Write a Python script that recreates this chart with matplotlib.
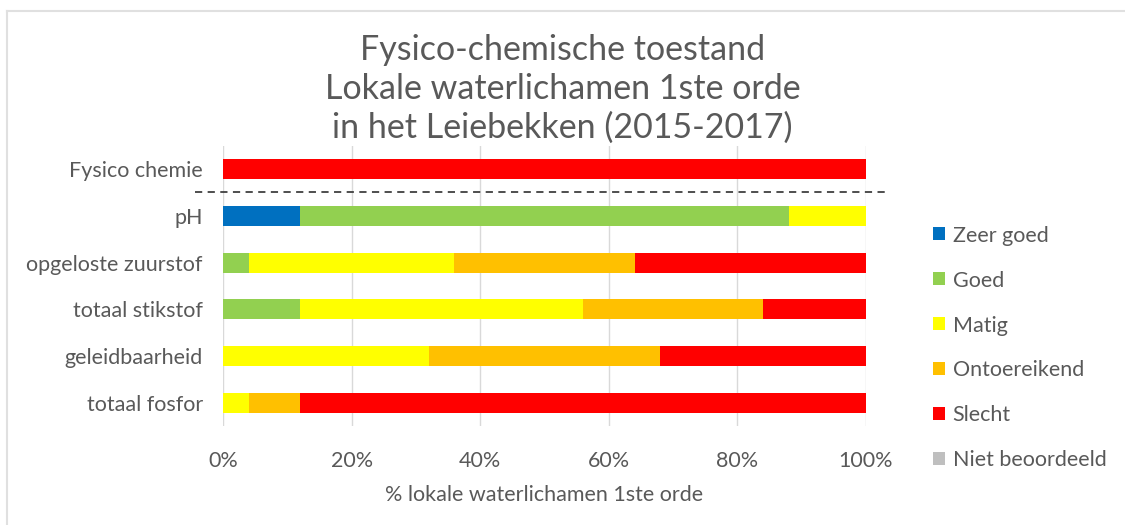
import matplotlib
matplotlib.use("Agg")
import matplotlib.pyplot as plt
import matplotlib.transforms as mtransforms
from matplotlib.patches import Patch
from matplotlib.lines import Line2D

categories = ["Fysico chemie", "pH", "opgeloste zuurstof", "totaal stikstof",
              "geleidbaarheid", "totaal fosfor"]
classes = ["Zeer goed", "Goed", "Matig", "Ontoereikend", "Slecht", "Niet beoordeeld"]
colors = ["#0070C0", "#92D050", "#FFFF00", "#FFC000", "#FF0000", "#BFBFBF"]

zeer_goed = [0, 12, 0, 0, 0, 0]
goed = [0, 76, 4, 12, 0, 0]
matig = [0, 12, 32, 44, 32, 4]
ontoereikend = [0, 0, 28, 28, 36, 8]
slecht = [100, 0, 36, 16, 32, 88]
niet_beoordeeld = [0, 0, 0, 0, 0, 0]

series = [zeer_goed, goed, matig, ontoereikend, slecht, niet_beoordeeld]
xticks = [0, 20, 40, 60, 80, 100]

plt.rcParams['font.family'] = ['Lato', 'DejaVu Sans']
txt = "#595959"
fs = 15.5

fig = plt.figure(figsize=(11.25, 5.25), dpi=100)
ax = fig.add_axes([223/1125, 1-426.4/525, (866-223)/1125, (426.4-145.6)/525])

y = list(range(len(categories)))
left = [0]*len(categories)
for vals, col, name in zip(series, colors, classes):
    ax.barh(y, vals, left=left, color=col, height=0.43, label=name, zorder=3)
    left = [a+b for a, b in zip(left, vals)]

ax.set_xlim(0, 100)
ax.set_ylim(len(categories)-0.5, -0.5)
ax.set_yticks(y)
ax.set_yticklabels(categories)
ax.set_xticks(xticks)
ax.set_xticklabels([f"{v}%" for v in xticks])
ax.tick_params(axis='both', length=0, colors=txt, labelsize=fs)
ax.tick_params(axis='y', pad=14.5)
ax.tick_params(axis='x', pad=18)
for s in ax.spines.values():
    s.set_visible(False)
ax.grid(axis='x', color="#D9D9D9", linewidth=1, zorder=0)
ax.set_xlabel("% lokale waterlichamen 1ste orde", color=txt, fontsize=fs, labelpad=10)

trans = mtransforms.blended_transform_factory(ax.transAxes, ax.transData)
ax.add_line(Line2D([(195-223)/643, (888-223)/643], [0.5, 0.5], transform=trans,
                   color="#404040", linestyle=(0, (4, 3)), linewidth=1.3, clip_on=False, zorder=4))

fig.text(0.5, 1-89/525, "Fysico-chemische toestand\nLokale waterlichamen 1ste orde\nin het Leiebekken (2015-2017)",
         ha='center', va='center', fontsize=24.5, color=txt, linespacing=1.27)

handles = [Patch(facecolor=c, edgecolor='none') for c in colors]
leg = fig.legend(handles, classes, loc='center left', bbox_to_anchor=(914/1125, 1-348/525),
                 frameon=False, fontsize=fs, handlelength=0.55, handleheight=0.55,
                 handletextpad=0.35, labelspacing=1.16, labelcolor=txt)

# chart border (top and left)
fig.add_artist(Line2D([7/1125, 1], [1-11/525, 1-11/525], color="#E0E0E0", linewidth=1.5))
fig.add_artist(Line2D([7/1125, 7/1125], [0, 1-11/525], color="#E0E0E0", linewidth=1.5))

fig.savefig("out.png", dpi=100, facecolor="white")
